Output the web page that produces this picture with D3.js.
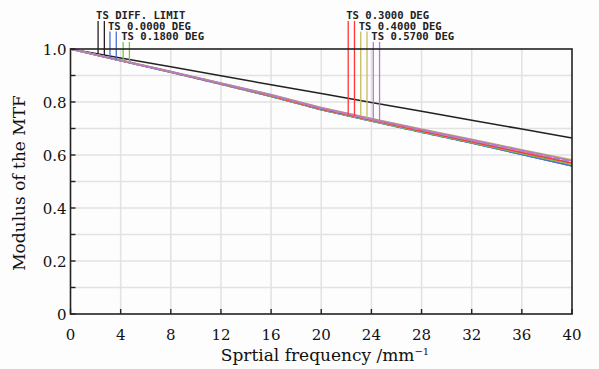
<!DOCTYPE html>
<html>
<head>
<meta charset="utf-8">
<script src="https://d3js.org/d3.v7.min.js"></script>
<style>
  body { margin: 0; background: #fdfdfd; }
  svg { display: block; }
</style>
</head>
<body>
<script>

  // spatial frequency samples (mm^-1)
  var freq = [0, 4, 8, 12, 16, 20, 24, 28, 32, 36, 40];

  var diffLimit = [1.0, 0.966, 0.933, 0.899, 0.865, 0.832, 0.798, 0.765, 0.731, 0.698, 0.664];

  var blueT   = [1.0, 0.956, 0.912, 0.867, 0.821, 0.771, 0.728, 0.686, 0.645, 0.602, 0.559];
  var blueS   = [1.0, 0.956, 0.912, 0.867, 0.821, 0.771, 0.728, 0.686, 0.645, 0.602, 0.559];
  var greenT  = [1.0, 0.956, 0.913, 0.868, 0.822, 0.772, 0.729, 0.688, 0.647, 0.606, 0.564];
  var greenS  = [1.0, 0.957, 0.913, 0.869, 0.823, 0.773, 0.730, 0.689, 0.648, 0.608, 0.567];
  var redT    = [1.0, 0.957, 0.914, 0.869, 0.824, 0.774, 0.732, 0.691, 0.650, 0.610, 0.570];
  var redS    = [1.0, 0.957, 0.914, 0.870, 0.825, 0.775, 0.733, 0.692, 0.652, 0.612, 0.572];
  var oliveT  = [1.0, 0.958, 0.915, 0.872, 0.828, 0.779, 0.738, 0.698, 0.659, 0.620, 0.582];
  var oliveS  = [1.0, 0.957, 0.915, 0.871, 0.826, 0.777, 0.735, 0.695, 0.655, 0.616, 0.577];
  var purpleT = [1.0, 0.957, 0.915, 0.871, 0.827, 0.778, 0.737, 0.696, 0.657, 0.618, 0.578];
  var purpleS = [1.0, 0.957, 0.914, 0.870, 0.826, 0.776, 0.734, 0.694, 0.654, 0.614, 0.574];

  var labels  = ["TS DIFF. LIMIT", "TS 0.0000 DEG", "TS 0.1800 DEG", "TS 0.3000 DEG", "TS 0.4000 DEG", "TS 0.5700 DEG"];
  var colors  = ["#222222", "#4a6fd0", "#7cc24a", "#ff3535", "#c4bf5c", "#b47cc8"];
  var seriesT = [diffLimit, blueT, greenT, redT, oliveT, purpleT];
  var seriesS = [diffLimit, blueS, greenS, redS, oliveS, purpleS];
  // where the T and S legend leaders touch the curves
  var markT = [2.2, 3.15, 4.2, 22.15, 23.15, 24.15];
  var markS = [2.7, 3.65, 4.7, 22.65, 23.65, 24.65];

  var xTicks = [0, 4, 8, 12, 16, 20, 24, 28, 32, 36, 40];
  var yLabelTicks = [0, 0.2, 0.4, 0.6, 0.8, 1.0];
  var yMinor = [0, 0.1, 0.2, 0.3, 0.4, 0.5, 0.6, 0.7, 0.8, 0.9, 1.0];

  var width = 599, height = 369;
  var pL = 70.5, pR = 572, pT = 49, pB = 314;

  var svg = d3.select("body").append("svg")
    .attr("width", width)
    .attr("height", height);

  var x = d3.scaleLinear().domain([0, 40]).range([pL, pR]);
  var y = d3.scaleLinear().domain([0, 1]).range([pB, pT]);

  // grid
  svg.append("g").selectAll("line")
    .data(yMinor.slice(1, -1))
    .enter().append("line")
      .attr("x1", pL).attr("x2", pR)
      .attr("y1", function(d) { return y(d); })
      .attr("y2", function(d) { return y(d); })
      .attr("stroke", "#e2e2e2").attr("stroke-width", 1.5);

  svg.append("g").selectAll("line")
    .data(xTicks.slice(1, -1))
    .enter().append("line")
      .attr("y1", pT).attr("y2", pB)
      .attr("x1", function(d) { return x(d); })
      .attr("x2", function(d) { return x(d); })
      .attr("stroke", "#e2e2e2").attr("stroke-width", 1.5);

  // curves
  var line = d3.line()
    .x(function(d, i) { return x(freq[i]); })
    .y(function(d) { return y(d); });

  var curves = svg.append("g").attr("fill", "none").attr("stroke-width", 1.6);
  for (var k = 0; k < seriesT.length; k++) {
    curves.append("path").attr("d", line(seriesT[k])).attr("stroke", colors[k]);
    if (k > 0) {
      curves.append("path").attr("d", line(seriesS[k])).attr("stroke", colors[k])
        .attr("stroke-dasharray", "7,2");
    }
  }

  var valueAt = function(arr, f) {
    return d3.scaleLinear().domain(freq).range(arr)(f);
  };

  // legend leaders and labels
  var rowBase = [19, 29.5, 40];
  var leaders = svg.append("g").attr("stroke-width", 1.3);
  for (var k = 0; k < labels.length; k++) {
    var row = k % 3;
    var yTop = rowBase[row] + 2;
    leaders.append("line")
      .attr("x1", x(markT[k])).attr("x2", x(markT[k]))
      .attr("y1", yTop).attr("y2", y(valueAt(seriesT[k], markT[k])))
      .attr("stroke", colors[k]);
    leaders.append("line")
      .attr("x1", x(markS[k])).attr("x2", x(markS[k]))
      .attr("y1", yTop).attr("y2", y(valueAt(seriesS[k], markS[k])))
      .attr("stroke", colors[k]);
    svg.append("text")
      .attr("x", x(markT[k]) - 2)
      .attr("y", rowBase[row])
      .attr("font-family", "DejaVu Sans Mono")
      .attr("font-size", 10.6)
      .attr("font-weight", "bold")
      .attr("fill", "#222")
      .text(labels[k]);
  }

  // frame
  svg.append("rect")
    .attr("x", pL).attr("y", pT)
    .attr("width", pR - pL).attr("height", pB - pT)
    .attr("fill", "none").attr("stroke", "#222").attr("stroke-width", 1.6);

  // ticks (inward)
  svg.append("g").selectAll("line")
    .data(yMinor)
    .enter().append("line")
      .attr("x1", pL).attr("x2", pL + 5)
      .attr("y1", function(d) { return y(d); })
      .attr("y2", function(d) { return y(d); })
      .attr("stroke", "#222").attr("stroke-width", 1.4);

  svg.append("g").selectAll("line")
    .data(xTicks)
    .enter().append("line")
      .attr("y1", pB).attr("y2", pB - 5)
      .attr("x1", function(d) { return x(d); })
      .attr("x2", function(d) { return x(d); })
      .attr("stroke", "#222").attr("stroke-width", 1.4);

  // tick labels
  svg.append("g").selectAll("text")
    .data(yLabelTicks)
    .enter().append("text")
      .attr("x", pL - 4)
      .attr("y", function(d) { return y(d) + 5.5; })
      .attr("text-anchor", "end")
      .attr("font-family", "DejaVu Serif")
      .attr("font-size", 15)
      .attr("fill", "#111")
      .text(function(d) { return d === 0 ? "0" : d.toFixed(1); });

  svg.append("g").selectAll("text")
    .data(xTicks)
    .enter().append("text")
      .attr("x", function(d) { return x(d); })
      .attr("y", 340)
      .attr("text-anchor", "middle")
      .attr("font-family", "DejaVu Serif")
      .attr("font-size", 15)
      .attr("fill", "#111")
      .text(function(d) { return d; });

  // axis titles
  var xt = svg.append("text")
    .attr("x", 325).attr("y", 361)
    .attr("text-anchor", "middle")
    .attr("font-family", "DejaVu Serif")
    .attr("font-size", 17)
    .attr("fill", "#111")
    .text("Sprtial frequency /mm");
  xt.append("tspan").attr("dy", -6).attr("font-size", 10).text("\u22121");

  svg.append("text")
    .attr("transform", "translate(25,183) rotate(-90)")
    .attr("text-anchor", "middle")
    .attr("font-family", "DejaVu Serif")
    .attr("font-size", 17)
    .attr("fill", "#111")
    .text("Modulus of the MTF");

</script>
</body>
</html>
